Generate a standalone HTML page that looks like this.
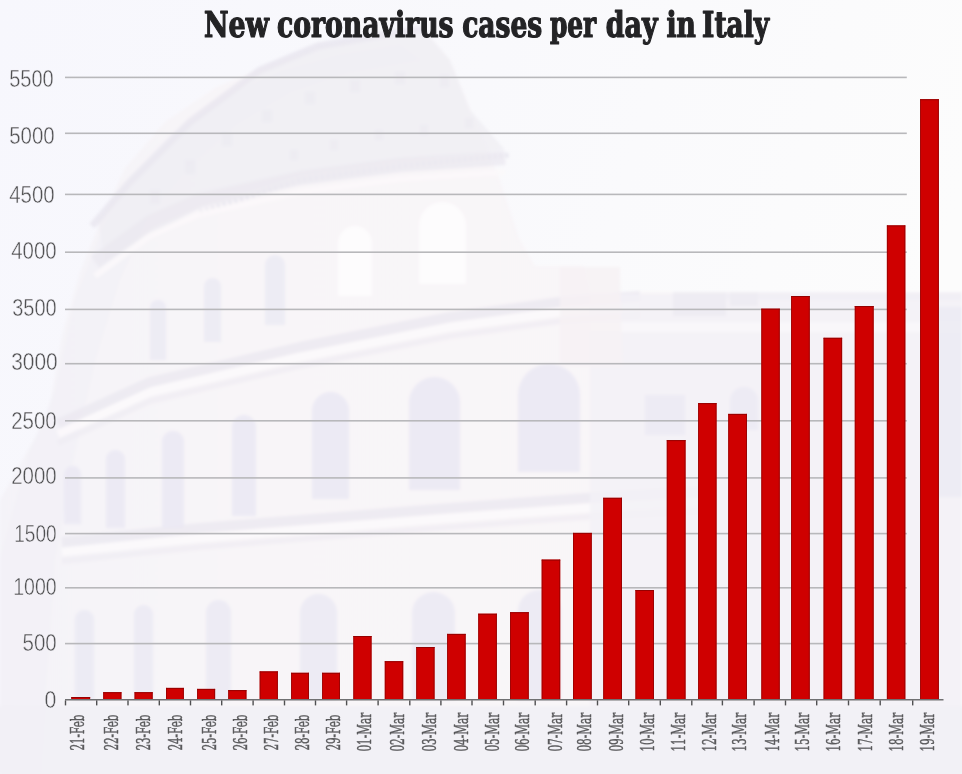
<!DOCTYPE html>
<html><head><meta charset="utf-8"><title>New coronavirus cases per day in Italy</title>
<style>
html,body{margin:0;padding:0;background:#f8f7fc;}
body{width:962px;height:774px;overflow:hidden;}
svg{display:block;}
.t{font-family:"DejaVu Serif","Liberation Serif",serif;font-stretch:condensed;font-weight:bold;fill:#232325;stroke:#232325;stroke-width:1.2px;stroke-linejoin:round;}
.y{font-family:"Liberation Sans","DejaVu Sans",sans-serif;fill:#505052;stroke:#f4f3f8;stroke-width:0.45px;}
.x{font-family:"DejaVu Serif","Liberation Serif",serif;font-stretch:condensed;font-weight:normal;fill:#5a5a5c;stroke:#5a5a5c;stroke-width:0.45px;}
</style></head><body>
<svg width="962" height="774" viewBox="0 0 962 774">
<defs><filter id="bl" x="-5%" y="-5%" width="110%" height="110%"><feGaussianBlur stdDeviation="1.6"/></filter><linearGradient id="sky" x1="0" y1="0" x2="1" y2="0.25"><stop offset="0" stop-color="#f7f7fd"/><stop offset="0.5" stop-color="#f9f9fc"/><stop offset="1" stop-color="#fcfcfc"/></linearGradient><linearGradient id="body" x1="0" y1="0" x2="1" y2="0"><stop offset="0" stop-color="#f4f3f8"/><stop offset="0.25" stop-color="#f8f5f8"/><stop offset="1" stop-color="#f9f6f8"/></linearGradient></defs><rect width="962" height="774" fill="url(#sky)"/><g filter="url(#bl)"><path d="M0,774 L0,500 L25,455 L48,415 L62,335 L80,272 L100,222 L125,168 L165,122 L215,88 L275,62 L325,47 L380,37 L425,31 L450,60 L475,120 L500,180 L520,240 L535,266 L584,266 L590,292 L962,292 L962,774 Z" fill="url(#body)"/><path d="M0,560 L30,450 L55,390 L75,300 L100,235 L130,180 L170,135 L220,100 L280,72 L340,55 L400,45 L420,60 L350,72 L290,92 L235,125 L190,165 L150,215 L120,280 L95,360 L75,450 L55,560 L40,774 L0,774 Z" fill="#f1f0f6" opacity="0.6"/><path d="M98,222 L135,181 L194,121 L263,71 L318,48 L380,37 L425,31 L450,60 L470,110 L505,150 L400,162 L300,176 L200,208 L140,240 L105,262 Z" fill="#efedf3" opacity="0.75"/><rect x="150" y="190" width="10" height="14" fill="#e8e6ef" opacity="0.45"/><rect x="185" y="160" width="10" height="14" fill="#e8e6ef" opacity="0.45"/><rect x="222" y="133" width="10" height="13" fill="#e8e6ef" opacity="0.45"/><rect x="262" y="110" width="10" height="12" fill="#e8e6ef" opacity="0.45"/><rect x="305" y="92" width="10" height="12" fill="#e8e6ef" opacity="0.45"/><rect x="350" y="80" width="10" height="12" fill="#e8e6ef" opacity="0.45"/><rect x="395" y="72" width="10" height="12" fill="#e8e6ef" opacity="0.45"/><rect x="440" y="75" width="9" height="12" fill="#e8e6ef" opacity="0.45"/><rect x="290" y="150" width="8" height="10" fill="#e8e6ef" opacity="0.45"/><rect x="330" y="140" width="8" height="10" fill="#e8e6ef" opacity="0.45"/><rect x="375" y="130" width="8" height="10" fill="#e8e6ef" opacity="0.45"/><rect x="420" y="125" width="8" height="10" fill="#e8e6ef" opacity="0.45"/><rect x="465" y="118" width="8" height="10" fill="#e8e6ef" opacity="0.45"/><path d="M92,226 L130,182 L190,122 L260,70 L318,46 L380,35 L425,29" fill="none" stroke="#e8e6ef" stroke-width="7" opacity="0.8"/><path d="M200,212 L300,180 L400,166 L510,155" fill="none" stroke="#e4e2ec" stroke-width="5" stroke-dasharray="3,3" opacity="0.8"/><path d="M95,262 L150,222 L200,200 L300,178 L400,165 L505,158" fill="none" stroke="#ebe8f0" stroke-width="14" stroke-linejoin="round" stroke-linecap="butt" opacity="0.75"/><path d="M95,276 L150,236 L200,214 L300,192 L400,179 L505,172" fill="none" stroke="#fbf9fa" stroke-width="6" stroke-linejoin="round" stroke-linecap="butt" opacity="0.8"/><path d="M58,424 L150,382 L300,347 L450,317 L560,302 L640,296" fill="none" stroke="#eae7ef" stroke-width="10" stroke-linejoin="round" stroke-linecap="butt" opacity="0.7"/><path d="M58,434 L150,392 L300,357 L450,327 L560,312 L640,306" fill="none" stroke="#fcf9fb" stroke-width="8" stroke-linejoin="round" stroke-linecap="butt" opacity="0.85"/><path d="M58,443 L150,401 L300,366 L450,336 L560,321 L640,315" fill="none" stroke="#eeebf1" stroke-width="6" stroke-linejoin="round" stroke-linecap="butt" opacity="0.6"/><path d="M62,542 L200,528 L300,520 L450,508 L600,497 L700,492" fill="none" stroke="#eae7ef" stroke-width="10" stroke-linejoin="round" stroke-linecap="butt" opacity="0.7"/><path d="M62,552 L200,538 L300,530 L450,518 L600,507 L700,502" fill="none" stroke="#fcf9fb" stroke-width="8" stroke-linejoin="round" stroke-linecap="butt" opacity="0.85"/><path d="M62,561 L200,547 L300,539 L450,527 L600,516 L700,511" fill="none" stroke="#eeebf1" stroke-width="6" stroke-linejoin="round" stroke-linecap="butt" opacity="0.6"/><path d="M150,360 V308.0 A8.0,8.0 0 0 1 166,308.0 V360 Z" fill="#eae8f3" opacity="0.75"/><path d="M204,342 V286.5 A8.5,8.5 0 0 1 221,286.5 V342 Z" fill="#eae8f3" opacity="0.75"/><path d="M265,325 V265.0 A10.0,10.0 0 0 1 285,265.0 V325 Z" fill="#eae8f3" opacity="0.75"/><path d="M338,296 V243.0 A17.0,17.0 0 0 1 372,243.0 V296 Z" fill="#fdfcfd" opacity="0.95"/><path d="M419,284 V225.5 A23.5,23.5 0 0 1 466,225.5 V284 Z" fill="#fdfcfd" opacity="0.95"/><path d="M64,524 V474.5 A8.5,8.5 0 0 1 81,474.5 V524 Z" fill="#eae8f3" opacity="0.85"/><path d="M106,528 V459.5 A9.5,9.5 0 0 1 125,459.5 V528 Z" fill="#eae8f3" opacity="0.85"/><path d="M162,528 V442.0 A11.0,11.0 0 0 1 184,442.0 V528 Z" fill="#eae8f3" opacity="0.85"/><path d="M232,516 V427.0 A12.0,12.0 0 0 1 256,427.0 V516 Z" fill="#eae8f3" opacity="0.85"/><path d="M312,499 V410.5 A18.5,18.5 0 0 1 349,410.5 V499 Z" fill="#eae8f3" opacity="0.85"/><path d="M409,490 V402.5 A25.5,25.5 0 0 1 460,402.5 V490 Z" fill="#eae8f3" opacity="0.85"/><path d="M518,472 V395.0 A31.0,31.0 0 0 1 580,395.0 V472 Z" fill="#eae8f3" opacity="0.85"/><path d="M75,700 V619.5 A9.5,9.5 0 0 1 94,619.5 V700 Z" fill="#eae8f3" opacity="0.8"/><path d="M134,700 V614.5 A9.5,9.5 0 0 1 153,614.5 V700 Z" fill="#eae8f3" opacity="0.8"/><path d="M206,700 V612.5 A12.5,12.5 0 0 1 231,612.5 V700 Z" fill="#eae8f3" opacity="0.8"/><path d="M300,700 V612.5 A18.5,18.5 0 0 1 337,612.5 V700 Z" fill="#eae8f3" opacity="0.8"/><path d="M412,700 V613.5 A21.5,21.5 0 0 1 455,613.5 V700 Z" fill="#eae8f3" opacity="0.8"/><path d="M518,700 V611.5 A21.5,21.5 0 0 1 561,611.5 V700 Z" fill="#eae8f3" opacity="0.8"/><path d="M590,294 L962,294 L962,706 L590,706 Z" fill="#f3f1f6" opacity="0.8"/><rect x="590" y="322" width="372" height="10" fill="#faf8fa" opacity="0.8"/><rect x="673" y="292" width="53" height="24" fill="#ebe9f1" opacity="0.7"/><rect x="730" y="292" width="28" height="14" fill="#ebe9f1" opacity="0.7"/><path d="M560,267 L620,267 L622,366 L560,366 Z" fill="#f6f1f4" opacity="0.8"/><path d="M730,430 V401.0 A14.0,14.0 0 0 1 758,401.0 V430 Z" fill="#e9e8f2" opacity="0.7"/><rect x="645" y="395" width="40" height="40" fill="#e9e8f2" opacity="0.7"/><rect x="935" y="307" width="27" height="190" fill="#ebeaf3" opacity="0.8"/><rect x="700" y="292" width="262" height="8" fill="#efedf3" opacity="0.6"/><rect x="-10" y="706" width="982" height="90" fill="#f1f0f6" opacity="0.85"/></g>
<rect x="65" y="76.6" width="841.8" height="1.6" fill="#b8b8bb"/>
<rect x="65" y="132.5" width="841.8" height="1.6" fill="#b8b8bb"/>
<rect x="65" y="193.6" width="841.8" height="1.6" fill="#b8b8bb"/>
<rect x="65" y="251.4" width="841.8" height="1.6" fill="#b8b8bb"/>
<rect x="65" y="308.6" width="841.8" height="1.6" fill="#b8b8bb"/>
<rect x="65" y="362.9" width="841.8" height="1.6" fill="#b8b8bb"/>
<rect x="65" y="420.0" width="841.8" height="1.6" fill="#b8b8bb"/>
<rect x="65" y="477.1" width="841.8" height="1.6" fill="#b8b8bb"/>
<rect x="65" y="532.8" width="841.8" height="1.6" fill="#b8b8bb"/>
<rect x="65" y="587.0" width="841.8" height="1.6" fill="#b8b8bb"/>
<rect x="65" y="642.8" width="841.8" height="1.6" fill="#b8b8bb"/>
<rect x="71.4" y="697.0" width="18.7" height="2.8" fill="#cf0000"/>
<rect x="71.4" y="697.0" width="0.8" height="2.8" fill="#960000"/>
<rect x="89.2" y="697.0" width="0.9" height="2.8" fill="#960000"/>
<rect x="71.4" y="697.0" width="18.7" height="1" fill="#960000"/>
<rect x="103.3" y="692.2" width="18.1" height="7.6" fill="#cf0000"/>
<rect x="103.3" y="692.2" width="0.8" height="7.6" fill="#960000"/>
<rect x="120.5" y="692.2" width="0.9" height="7.6" fill="#960000"/>
<rect x="103.3" y="692.2" width="18.1" height="1" fill="#960000"/>
<rect x="134.6" y="692.2" width="18.0" height="7.6" fill="#cf0000"/>
<rect x="134.6" y="692.2" width="0.8" height="7.6" fill="#960000"/>
<rect x="151.7" y="692.2" width="0.9" height="7.6" fill="#960000"/>
<rect x="134.6" y="692.2" width="18.0" height="1" fill="#960000"/>
<rect x="166.0" y="687.9" width="17.8" height="11.9" fill="#cf0000"/>
<rect x="166.0" y="687.9" width="0.8" height="11.9" fill="#960000"/>
<rect x="182.9" y="687.9" width="0.9" height="11.9" fill="#960000"/>
<rect x="166.0" y="687.9" width="17.8" height="1" fill="#960000"/>
<rect x="197.2" y="688.9" width="17.9" height="10.9" fill="#cf0000"/>
<rect x="197.2" y="688.9" width="0.8" height="10.9" fill="#960000"/>
<rect x="214.2" y="688.9" width="0.9" height="10.9" fill="#960000"/>
<rect x="197.2" y="688.9" width="17.9" height="1" fill="#960000"/>
<rect x="228.3" y="690.1" width="18.1" height="9.7" fill="#cf0000"/>
<rect x="228.3" y="690.1" width="0.8" height="9.7" fill="#960000"/>
<rect x="245.5" y="690.1" width="0.9" height="9.7" fill="#960000"/>
<rect x="228.3" y="690.1" width="18.1" height="1" fill="#960000"/>
<rect x="259.7" y="671.4" width="18.1" height="28.4" fill="#cf0000"/>
<rect x="259.7" y="671.4" width="0.8" height="28.4" fill="#960000"/>
<rect x="276.9" y="671.4" width="0.9" height="28.4" fill="#960000"/>
<rect x="259.7" y="671.4" width="18.1" height="1" fill="#960000"/>
<rect x="291.2" y="672.8" width="17.7" height="27.0" fill="#cf0000"/>
<rect x="291.2" y="672.8" width="0.8" height="27.0" fill="#960000"/>
<rect x="308.0" y="672.8" width="0.9" height="27.0" fill="#960000"/>
<rect x="291.2" y="672.8" width="17.7" height="1" fill="#960000"/>
<rect x="322.2" y="672.8" width="17.7" height="27.0" fill="#cf0000"/>
<rect x="322.2" y="672.8" width="0.8" height="27.0" fill="#960000"/>
<rect x="339.0" y="672.8" width="0.9" height="27.0" fill="#960000"/>
<rect x="322.2" y="672.8" width="17.7" height="1" fill="#960000"/>
<rect x="353.4" y="636.0" width="18.1" height="63.8" fill="#cf0000"/>
<rect x="353.4" y="636.0" width="0.8" height="63.8" fill="#960000"/>
<rect x="370.6" y="636.0" width="0.9" height="63.8" fill="#960000"/>
<rect x="353.4" y="636.0" width="18.1" height="1" fill="#960000"/>
<rect x="384.8" y="661.2" width="18.4" height="38.6" fill="#cf0000"/>
<rect x="384.8" y="661.2" width="0.8" height="38.6" fill="#960000"/>
<rect x="402.3" y="661.2" width="0.9" height="38.6" fill="#960000"/>
<rect x="384.8" y="661.2" width="18.4" height="1" fill="#960000"/>
<rect x="416.3" y="647.0" width="18.2" height="52.8" fill="#cf0000"/>
<rect x="416.3" y="647.0" width="0.8" height="52.8" fill="#960000"/>
<rect x="433.6" y="647.0" width="0.9" height="52.8" fill="#960000"/>
<rect x="416.3" y="647.0" width="18.2" height="1" fill="#960000"/>
<rect x="447.2" y="633.9" width="18.4" height="65.9" fill="#cf0000"/>
<rect x="447.2" y="633.9" width="0.8" height="65.9" fill="#960000"/>
<rect x="464.7" y="633.9" width="0.9" height="65.9" fill="#960000"/>
<rect x="447.2" y="633.9" width="18.4" height="1" fill="#960000"/>
<rect x="478.3" y="613.7" width="18.5" height="86.1" fill="#cf0000"/>
<rect x="478.3" y="613.7" width="0.8" height="86.1" fill="#960000"/>
<rect x="495.9" y="613.7" width="0.9" height="86.1" fill="#960000"/>
<rect x="478.3" y="613.7" width="18.5" height="1" fill="#960000"/>
<rect x="510.1" y="612.2" width="18.6" height="87.6" fill="#cf0000"/>
<rect x="510.1" y="612.2" width="0.8" height="87.6" fill="#960000"/>
<rect x="527.8" y="612.2" width="0.9" height="87.6" fill="#960000"/>
<rect x="510.1" y="612.2" width="18.6" height="1" fill="#960000"/>
<rect x="541.7" y="559.6" width="18.5" height="140.2" fill="#cf0000"/>
<rect x="541.7" y="559.6" width="0.8" height="140.2" fill="#960000"/>
<rect x="559.3" y="559.6" width="0.9" height="140.2" fill="#960000"/>
<rect x="541.7" y="559.6" width="18.5" height="1" fill="#960000"/>
<rect x="573.0" y="532.9" width="18.7" height="166.9" fill="#cf0000"/>
<rect x="573.0" y="532.9" width="0.8" height="166.9" fill="#960000"/>
<rect x="590.8" y="532.9" width="0.9" height="166.9" fill="#960000"/>
<rect x="573.0" y="532.9" width="18.7" height="1" fill="#960000"/>
<rect x="603.3" y="497.8" width="18.7" height="202.0" fill="#cf0000"/>
<rect x="603.3" y="497.8" width="0.8" height="202.0" fill="#960000"/>
<rect x="621.1" y="497.8" width="0.9" height="202.0" fill="#960000"/>
<rect x="603.3" y="497.8" width="18.7" height="1" fill="#960000"/>
<rect x="635.5" y="590.0" width="18.4" height="109.8" fill="#cf0000"/>
<rect x="635.5" y="590.0" width="0.8" height="109.8" fill="#960000"/>
<rect x="653.0" y="590.0" width="0.9" height="109.8" fill="#960000"/>
<rect x="635.5" y="590.0" width="18.4" height="1" fill="#960000"/>
<rect x="666.8" y="440.1" width="18.7" height="259.7" fill="#cf0000"/>
<rect x="666.8" y="440.1" width="0.8" height="259.7" fill="#960000"/>
<rect x="684.6" y="440.1" width="0.9" height="259.7" fill="#960000"/>
<rect x="666.8" y="440.1" width="18.7" height="1" fill="#960000"/>
<rect x="698.2" y="403.1" width="18.3" height="296.7" fill="#cf0000"/>
<rect x="698.2" y="403.1" width="0.8" height="296.7" fill="#960000"/>
<rect x="715.6" y="403.1" width="0.9" height="296.7" fill="#960000"/>
<rect x="698.2" y="403.1" width="18.3" height="1" fill="#960000"/>
<rect x="728.3" y="413.9" width="18.6" height="285.9" fill="#cf0000"/>
<rect x="728.3" y="413.9" width="0.8" height="285.9" fill="#960000"/>
<rect x="746.0" y="413.9" width="0.9" height="285.9" fill="#960000"/>
<rect x="728.3" y="413.9" width="18.6" height="1" fill="#960000"/>
<rect x="761.4" y="308.7" width="18.3" height="391.1" fill="#cf0000"/>
<rect x="761.4" y="308.7" width="0.8" height="391.1" fill="#960000"/>
<rect x="778.8" y="308.7" width="0.9" height="391.1" fill="#960000"/>
<rect x="761.4" y="308.7" width="18.3" height="1" fill="#960000"/>
<rect x="791.2" y="296.0" width="18.5" height="403.8" fill="#cf0000"/>
<rect x="791.2" y="296.0" width="0.8" height="403.8" fill="#960000"/>
<rect x="808.8" y="296.0" width="0.9" height="403.8" fill="#960000"/>
<rect x="791.2" y="296.0" width="18.5" height="1" fill="#960000"/>
<rect x="823.6" y="337.8" width="18.5" height="362.0" fill="#cf0000"/>
<rect x="823.6" y="337.8" width="0.8" height="362.0" fill="#960000"/>
<rect x="841.2" y="337.8" width="0.9" height="362.0" fill="#960000"/>
<rect x="823.6" y="337.8" width="18.5" height="1" fill="#960000"/>
<rect x="854.8" y="306.0" width="18.8" height="393.8" fill="#cf0000"/>
<rect x="854.8" y="306.0" width="0.8" height="393.8" fill="#960000"/>
<rect x="872.7" y="306.0" width="0.9" height="393.8" fill="#960000"/>
<rect x="854.8" y="306.0" width="18.8" height="1" fill="#960000"/>
<rect x="886.9" y="225.4" width="18.4" height="474.4" fill="#cf0000"/>
<rect x="886.9" y="225.4" width="0.8" height="474.4" fill="#960000"/>
<rect x="904.4" y="225.4" width="0.9" height="474.4" fill="#960000"/>
<rect x="886.9" y="225.4" width="18.4" height="1" fill="#960000"/>
<rect x="920.2" y="99.2" width="18.6" height="600.6" fill="#cf0000"/>
<rect x="920.2" y="99.2" width="0.8" height="600.6" fill="#960000"/>
<rect x="937.9" y="99.2" width="0.9" height="600.6" fill="#960000"/>
<rect x="920.2" y="99.2" width="18.6" height="1" fill="#960000"/>
<rect x="65" y="699.0" width="878.5" height="1.5" fill="#707072"/>
<rect x="64.8" y="700.4" width="1.4" height="5" fill="#505052"/>
<rect x="96.0" y="700.4" width="1.4" height="5" fill="#505052"/>
<rect x="127.3" y="700.4" width="1.4" height="5" fill="#505052"/>
<rect x="158.6" y="700.4" width="1.4" height="5" fill="#505052"/>
<rect x="189.8" y="700.4" width="1.4" height="5" fill="#505052"/>
<rect x="221.0" y="700.4" width="1.4" height="5" fill="#505052"/>
<rect x="252.4" y="700.4" width="1.4" height="5" fill="#505052"/>
<rect x="283.8" y="700.4" width="1.4" height="5" fill="#505052"/>
<rect x="314.8" y="700.4" width="1.4" height="5" fill="#505052"/>
<rect x="345.9" y="700.4" width="1.4" height="5" fill="#505052"/>
<rect x="377.4" y="700.4" width="1.4" height="5" fill="#505052"/>
<rect x="409.1" y="700.4" width="1.4" height="5" fill="#505052"/>
<rect x="440.2" y="700.4" width="1.4" height="5" fill="#505052"/>
<rect x="471.3" y="700.4" width="1.4" height="5" fill="#505052"/>
<rect x="502.8" y="700.4" width="1.4" height="5" fill="#505052"/>
<rect x="534.5" y="700.4" width="1.4" height="5" fill="#505052"/>
<rect x="565.9" y="700.4" width="1.4" height="5" fill="#505052"/>
<rect x="596.8" y="700.4" width="1.4" height="5" fill="#505052"/>
<rect x="628.0" y="700.4" width="1.4" height="5" fill="#505052"/>
<rect x="659.6" y="700.4" width="1.4" height="5" fill="#505052"/>
<rect x="691.1" y="700.4" width="1.4" height="5" fill="#505052"/>
<rect x="721.7" y="700.4" width="1.4" height="5" fill="#505052"/>
<rect x="753.4" y="700.4" width="1.4" height="5" fill="#505052"/>
<rect x="784.8" y="700.4" width="1.4" height="5" fill="#505052"/>
<rect x="816.0" y="700.4" width="1.4" height="5" fill="#505052"/>
<rect x="847.8" y="700.4" width="1.4" height="5" fill="#505052"/>
<rect x="879.5" y="700.4" width="1.4" height="5" fill="#505052"/>
<rect x="912.0" y="700.4" width="1.4" height="5" fill="#505052"/>
<text class="t" font-size="35.0" y="36.60"><tspan x="204.00" textLength="64.82" lengthAdjust="spacingAndGlyphs">New</tspan> <tspan x="276.90" textLength="176.71" lengthAdjust="spacingAndGlyphs">coronavirus</tspan> <tspan x="462.20" textLength="80.06" lengthAdjust="spacingAndGlyphs">cases</tspan> <tspan x="549.90" textLength="46.32" lengthAdjust="spacingAndGlyphs">per</tspan> <tspan x="605.80" textLength="51.77" lengthAdjust="spacingAndGlyphs">day</tspan> <tspan x="666.50" textLength="29.42" lengthAdjust="spacingAndGlyphs">in</tspan> <tspan x="702.10" textLength="66.92" lengthAdjust="spacingAndGlyphs">Italy</tspan></text>
<text class="y" x="9.20" y="87.40" font-size="24.2" textLength="44.46" lengthAdjust="spacingAndGlyphs">5500</text>
<text class="y" x="9.20" y="144.30" font-size="24.2" textLength="45.52" lengthAdjust="spacingAndGlyphs">5000</text>
<text class="y" x="9.20" y="203.40" font-size="24.2" textLength="45.46" lengthAdjust="spacingAndGlyphs">4500</text>
<text class="y" x="11.20" y="259.20" font-size="24.2" textLength="45.46" lengthAdjust="spacingAndGlyphs">4000</text>
<text class="y" x="12.20" y="316.40" font-size="24.2" textLength="44.46" lengthAdjust="spacingAndGlyphs">3500</text>
<text class="y" x="11.20" y="369.70" font-size="24.2" textLength="46.50" lengthAdjust="spacingAndGlyphs">3000</text>
<text class="y" x="11.20" y="428.80" font-size="24.2" textLength="45.49" lengthAdjust="spacingAndGlyphs">2500</text>
<text class="y" x="11.20" y="483.90" font-size="24.2" textLength="45.52" lengthAdjust="spacingAndGlyphs">2000</text>
<text class="y" x="14.20" y="541.60" font-size="24.2" textLength="42.41" lengthAdjust="spacingAndGlyphs">1500</text>
<text class="y" x="13.20" y="594.80" font-size="24.2" textLength="43.48" lengthAdjust="spacingAndGlyphs">1000</text>
<text class="y" x="22.50" y="650.60" font-size="24.2" textLength="34.22" lengthAdjust="spacingAndGlyphs">500</text>
<text class="y" x="44.50" y="707.80" font-size="24.2" textLength="11.84" lengthAdjust="spacingAndGlyphs">0</text>
<text class="x" transform="translate(83.90,750.60) rotate(-90)" font-size="18.74" textLength="36.08" lengthAdjust="spacingAndGlyphs">21-Feb</text>
<text class="x" transform="translate(118.20,750.60) rotate(-90)" font-size="18.74" textLength="36.08" lengthAdjust="spacingAndGlyphs">22-Feb</text>
<text class="x" transform="translate(150.40,750.60) rotate(-90)" font-size="18.74" textLength="36.08" lengthAdjust="spacingAndGlyphs">23-Feb</text>
<text class="x" transform="translate(182.00,750.60) rotate(-90)" font-size="18.74" textLength="36.08" lengthAdjust="spacingAndGlyphs">24-Feb</text>
<text class="x" transform="translate(215.80,750.60) rotate(-90)" font-size="18.74" textLength="36.08" lengthAdjust="spacingAndGlyphs">25-Feb</text>
<text class="x" transform="translate(247.20,750.60) rotate(-90)" font-size="18.74" textLength="36.08" lengthAdjust="spacingAndGlyphs">26-Feb</text>
<text class="x" transform="translate(278.30,750.60) rotate(-90)" font-size="18.74" textLength="36.08" lengthAdjust="spacingAndGlyphs">27-Feb</text>
<text class="x" transform="translate(309.40,750.60) rotate(-90)" font-size="18.74" textLength="36.08" lengthAdjust="spacingAndGlyphs">28-Feb</text>
<text class="x" transform="translate(340.40,750.60) rotate(-90)" font-size="18.74" textLength="36.08" lengthAdjust="spacingAndGlyphs">29-Feb</text>
<text class="x" transform="translate(371.20,751.60) rotate(-90)" font-size="18.74" textLength="38.95" lengthAdjust="spacingAndGlyphs">01-Mar</text>
<text class="x" transform="translate(404.00,751.60) rotate(-90)" font-size="18.74" textLength="38.95" lengthAdjust="spacingAndGlyphs">02-Mar</text>
<text class="x" transform="translate(435.70,751.60) rotate(-90)" font-size="18.74" textLength="38.95" lengthAdjust="spacingAndGlyphs">03-Mar</text>
<text class="x" transform="translate(467.90,751.60) rotate(-90)" font-size="18.74" textLength="38.95" lengthAdjust="spacingAndGlyphs">04-Mar</text>
<text class="x" transform="translate(498.90,751.60) rotate(-90)" font-size="18.74" textLength="38.95" lengthAdjust="spacingAndGlyphs">05-Mar</text>
<text class="x" transform="translate(529.40,751.60) rotate(-90)" font-size="18.74" textLength="38.95" lengthAdjust="spacingAndGlyphs">06-Mar</text>
<text class="x" transform="translate(561.50,751.60) rotate(-90)" font-size="18.74" textLength="38.95" lengthAdjust="spacingAndGlyphs">07-Mar</text>
<text class="x" transform="translate(590.90,751.60) rotate(-90)" font-size="18.74" textLength="38.95" lengthAdjust="spacingAndGlyphs">08-Mar</text>
<text class="x" transform="translate(622.80,751.60) rotate(-90)" font-size="18.74" textLength="38.95" lengthAdjust="spacingAndGlyphs">09-Mar</text>
<text class="x" transform="translate(653.50,751.60) rotate(-90)" font-size="18.74" textLength="38.97" lengthAdjust="spacingAndGlyphs">10-Mar</text>
<text class="x" transform="translate(685.10,751.60) rotate(-90)" font-size="18.74" textLength="38.97" lengthAdjust="spacingAndGlyphs">11-Mar</text>
<text class="x" transform="translate(716.30,751.60) rotate(-90)" font-size="18.74" textLength="38.97" lengthAdjust="spacingAndGlyphs">12-Mar</text>
<text class="x" transform="translate(746.30,751.60) rotate(-90)" font-size="18.74" textLength="38.97" lengthAdjust="spacingAndGlyphs">13-Mar</text>
<text class="x" transform="translate(778.60,751.60) rotate(-90)" font-size="18.74" textLength="38.97" lengthAdjust="spacingAndGlyphs">14-Mar</text>
<text class="x" transform="translate(809.35,751.60) rotate(-90)" font-size="18.74" textLength="38.97" lengthAdjust="spacingAndGlyphs">15-Mar</text>
<text class="x" transform="translate(840.40,751.60) rotate(-90)" font-size="18.74" textLength="38.97" lengthAdjust="spacingAndGlyphs">16-Mar</text>
<text class="x" transform="translate(871.80,751.60) rotate(-90)" font-size="18.74" textLength="38.97" lengthAdjust="spacingAndGlyphs">17-Mar</text>
<text class="x" transform="translate(902.90,751.60) rotate(-90)" font-size="18.74" textLength="38.97" lengthAdjust="spacingAndGlyphs">18-Mar</text>
<text class="x" transform="translate(933.50,751.60) rotate(-90)" font-size="18.74" textLength="38.97" lengthAdjust="spacingAndGlyphs">19-Mar</text>
</svg>
</body></html>
